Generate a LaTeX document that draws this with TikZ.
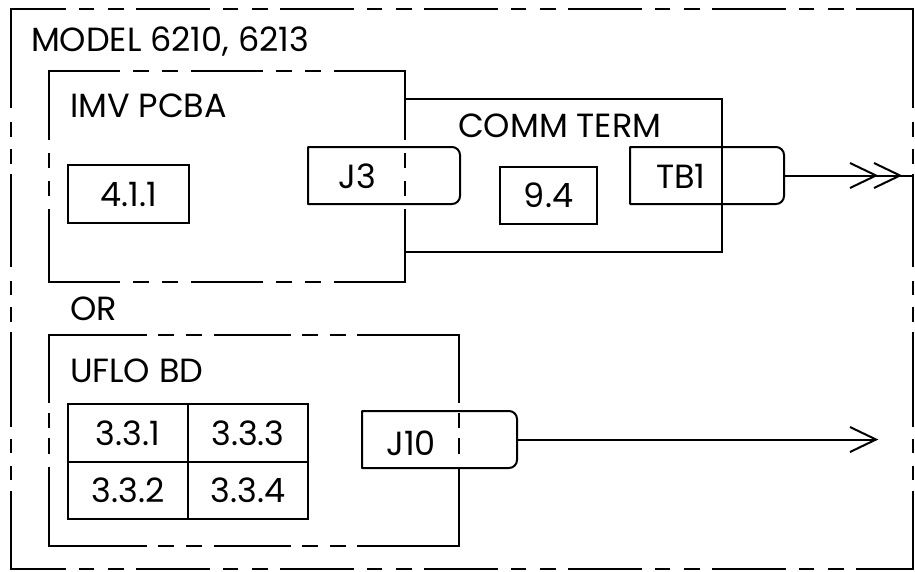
\documentclass[tikz,border=0pt]{standalone}
\usepackage{fontspec}
\setmainfont{Poppins}
\usetikzlibrary{calc}
\begin{document}
\begin{tikzpicture}[x=1pt,y=-1pt,
  ln/.style={line width=2pt},
  blk/.style={draw=none,rectangle,inner sep=0pt,outer sep=0pt},
  sbox/.style={draw,line width=2pt,rectangle,inner sep=0pt,outer sep=0pt,font=\fontsize{33.5}{40}\selectfont},
  txt/.style={inner sep=0pt,outer sep=0pt,font=\fontsize{33.5}{40}\selectfont},
  outerH/.style={ln,line cap=rect,dash pattern=on 72pt off 14.5pt on 13.5pt off 15.5pt on 14pt off 14.5pt,dash phase=18pt},
  outerV/.style={ln,line cap=rect,dash pattern=on 98pt off 16pt on 13pt off 14pt on 13pt off 12pt on 91pt off 16pt on 12pt off 14pt on 13pt off 12pt on 93pt off 14pt on 12pt off 15pt on 12pt off 13pt on 80pt off 20pt},
  imvH/.style={ln,line cap=rect,dash pattern=on 70pt off 15pt on 14pt off 15pt on 14pt off 15pt},
  imvV/.style={ln,line cap=rect,dash pattern=on 68pt off 15pt on 13pt off 15pt on 13pt off 15pt on 80pt off 20pt},
  ufloH/.style={ln,line cap=rect,dash pattern=on 97pt off 13pt on 14pt off 14pt on 14pt off 14pt on 75pt off 13pt on 14pt off 14pt on 14pt off 13pt on 110pt off 10pt},
  ufloV/.style={ln,line cap=rect,dash pattern=on 67pt off 12pt on 13pt off 12pt on 14pt off 15pt on 90pt off 10pt},
  conn/.style={ln,line join=round}
]
\useasboundingbox (0,0) rectangle (915,571);

% outer frame
\node[blk,minimum width=902pt,minimum height=560pt] (outer) at (462,289) {};
\draw[outerH] (outer.north west) -- (outer.north east);
\draw[outerH] (outer.south west) -- (outer.south east);
\draw[outerV] (outer.north west) -- (outer.south west);
\draw[outerV] (outer.north east) -- (outer.south east);
\node[txt,anchor=base west] (title) at (31,51) {MODEL 6210, 6213};

% IMV PCBA board
\node[blk,minimum width=356pt,minimum height=211pt] (imv) at (227,176.5) {};
\draw[imvH] (imv.north west) -- (imv.north east);
\draw[imvH] (imv.south west) -- (imv.south east);
\draw[imvV] (imv.north west) -- (imv.south west);
\draw[imvV] (imv.north east) -- (imv.south east);
\node[txt,anchor=base west] (imvlabel) at (70,117) {IMV PCBA};
\node[sbox,minimum width=121pt,minimum height=58pt] (b411) at (128.5,194) {4.1.1};

% COMM TERM board
\node[blk,minimum width=317pt,minimum height=153pt] (comm) at (563.5,175.5) {};
\draw[ln] (comm.north west) -- (comm.north east) -- (comm.south east) -- (comm.south west);
\node[txt,anchor=base west] (commlabel) at (458,137) {COMM TERM};
\node[sbox,minimum width=97pt,minimum height=57pt] (b94) at (548.5,195.5) {9.4};

% J3 connector
\node[blk,minimum width=152pt,minimum height=57pt] (j3) at (384,175.5) {};
\draw[conn] (j3.north) [rounded corners=8pt] -- (j3.north east) -- (j3.south east) -- (j3.south) [sharp corners] -- (j3.south west) -- (j3.north west) -- cycle;
\node[txt,anchor=base] (j3t) at (357,188) {J3};

% TB1 connector
\node[blk,minimum width=154pt,minimum height=57pt] (tb1) at (707,175.5) {};
\draw[conn] (tb1.north) [rounded corners=8pt] -- (tb1.north east) -- (tb1.south east) -- (tb1.south) [sharp corners] -- (tb1.south west) -- (tb1.north west) -- cycle;
\node[txt,anchor=base] (tb1t) at (681,188) {TB1};

% TB1 output line with double chevron
\coordinate (tbend) at (outer.east |- tb1.east);
\draw[ln] (tb1.east) -- (tbend);
\draw[ln,line join=miter] ($(tbend)+(-63,-12.5)$) -- ($(tbend)+(-37,0)$) -- ($(tbend)+(-63,12.5)$);
\draw[ln,line join=miter] ($(tbend)+(-39,-12.5)$) -- ($(tbend)+(-13,0)$) -- ($(tbend)+(-39,12.5)$);

% OR
\node[txt,anchor=base west] (orlabel) at (70,320) {OR};

% UFLO BD board
\node[blk,minimum width=410pt,minimum height=211pt] (uflo) at (254,440.5) {};
\draw[ufloH] (uflo.north west) -- (uflo.north east);
\draw[ufloH] (uflo.south west) -- (uflo.south east);
\draw[ufloV] (uflo.north west) -- (uflo.south west);
\draw[ufloV] (uflo.north east) -- (uflo.south east);
\node[txt,anchor=base west] (uflolabel) at (70,382) {UFLO BD};

\node[sbox,minimum width=120pt,minimum height=58pt] (c331) at (128,433) {3.3.1};
\node[sbox,minimum width=120pt,minimum height=58pt] (c333) at (248,433) {3.3.3};
\node[sbox,minimum width=120pt,minimum height=57pt] (c332) at (128,490.5) {3.3.2};
\node[sbox,minimum width=120pt,minimum height=57pt] (c334) at (248,490.5) {3.3.4};

% J10 connector
\node[blk,minimum width=155pt,minimum height=57pt] (j10) at (439.5,439.5) {};
\draw[conn] (j10.north) [rounded corners=8pt] -- (j10.north east) -- (j10.south east) -- (j10.south) [sharp corners] -- (j10.south west) -- (j10.north west) -- cycle;
\node[txt,anchor=base] (j10t) at (411,455) {J10};

% J10 output line with chevron
\coordinate (j10end) at (876,439.5);
\draw[ln] (j10.east) -- (j10end);
\draw[ln,line join=miter] ($(j10end)+(-26,-12.5)$) -- (j10end) -- ($(j10end)+(-26,12.5)$);
\end{tikzpicture}
\end{document}
